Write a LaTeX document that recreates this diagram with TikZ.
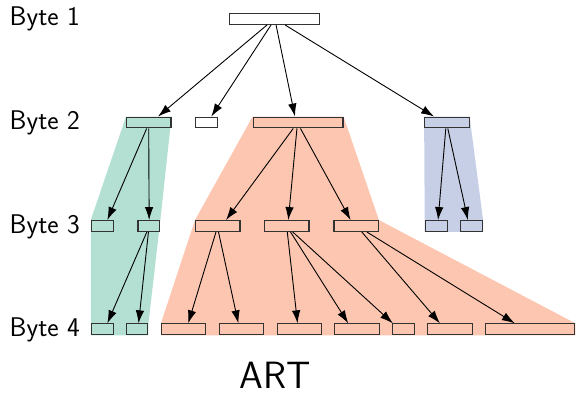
\documentclass[tikz,border=0pt]{standalone}
\usetikzlibrary{arrows.meta}
\definecolor{cg}{HTML}{B3E0D2}
\definecolor{co}{HTML}{FDC6B0}
\definecolor{cb}{HTML}{C6CFE5}
\begin{document}
\begin{tikzpicture}[x=1pt,y=-1pt,
  keybox/.style={draw=black!80, line width=1.1pt, inner sep=0pt, minimum height=10.8pt},
  sbox/.style={keybox, minimum width=21.8pt},
  mbox/.style={keybox, minimum width=44.4pt},
  lbox/.style={keybox, minimum width=89.8pt},
  arr/.style={-{Latex[length=13pt,width=8.5pt]}, line width=0.9pt, black},
  lbl/.style={font=\sffamily\fontsize{27}{32}\selectfont, anchor=base west, inner sep=0pt},
  ttl/.style={font=\sffamily\fontsize{38}{44}\selectfont, anchor=base, inner sep=0pt}]
\useasboundingbox (0,0) rectangle (576,394);

% labels
\node[lbl] (l1) at (9.5,25.7) {Byte 1};
\node[lbl] (l2) at (9.5,129.3) {Byte 2};
\node[lbl] (l3) at (9.5,233) {Byte 3};
\node[lbl] (l4) at (9.5,336.3) {Byte 4};
\node[ttl] (art) at (275.5,388.5) {ART};

% box positions
\path
  (274.5,19) coordinate (a)
  (148.75,122.5) coordinate (g2)
  (206.25,122.5) coordinate (w2)
  (298.1,122.5) coordinate (s2)
  (446.85,122.5) coordinate (b2)
  (102.2,226) coordinate (g3a)
  (148.9,226) coordinate (g3b)
  (217.75,226) coordinate (s3a)
  (286.75,226) coordinate (s3b)
  (356.15,226) coordinate (s3c)
  (436.15,226) coordinate (b3a)
  (471.65,226) coordinate (b3b)
  (102.2,329.3) coordinate (g4a)
  (137,329.3) coordinate (g4b)
  (183.65,329.3) coordinate (s4a)
  (241.5,329.3) coordinate (s4b)
  (299.3,329.3) coordinate (s4c)
  (357,329.3) coordinate (s4d)
  (403.5,329.3) coordinate (s4e)
  (450,329.3) coordinate (s4f)
  (530,329.3) coordinate (s4g);

% invisible sizing nodes for region corners
\path
  (g2) node[mbox, draw=none] (G2) {}
  (g3a) node[sbox, draw=none] (G3a) {}
  (g3b) node[sbox, draw=none] (G3b) {}
  (g4a) node[sbox, draw=none] (G4a) {}
  (g4b) node[sbox, draw=none] (G4b) {}
  (s2) node[lbox, draw=none] (S2) {}
  (s3a) node[mbox, draw=none] (S3a) {}
  (s3c) node[mbox, draw=none] (S3c) {}
  (s4a) node[mbox, draw=none] (S4a) {}
  (s4g) node[lbox, draw=none] (S4g) {}
  (b2) node[mbox, draw=none] (B2) {}
  (b3a) node[sbox, draw=none] (B3a) {}
  (b3b) node[sbox, draw=none] (B3b) {};

% shaded regions
\fill[cg] (G2.north west) -- (G2.north east) -- (G3b.north east) -- (G4b.north east)
  -- (G4b.south east) -- (G4a.south west) -- (G3a.north west) -- cycle;
\fill[co] (S2.north west) -- (S2.north east) -- (S3c.north east) -- (S4g.north east)
  -- (S4g.south east) -- (S4a.south west) -- (S4a.north west) -- (S3a.north west) -- cycle;
\fill[cb] (B2.north west) -- (B2.north east) -- (B3b.north east) -- (B3b.south east)
  -- (B3a.south west) -- (B3a.north west) -- cycle;

% boxes
\path
  (a) node[lbox, fill=white] (A) {}
  (g2) node[mbox, fill=cg] (N-g2) {}
  (w2) node[sbox, fill=white] (N-w2) {}
  (s2) node[lbox, fill=co] (N-s2) {}
  (b2) node[mbox, fill=cb] (N-b2) {}
  (g3a) node[sbox, fill=cg] (N-g3a) {}
  (g3b) node[sbox, fill=cg] (N-g3b) {}
  (s3a) node[mbox, fill=co] (N-s3a) {}
  (s3b) node[mbox, fill=co] (N-s3b) {}
  (s3c) node[mbox, fill=co] (N-s3c) {}
  (b3a) node[sbox, fill=cb] (N-b3a) {}
  (b3b) node[sbox, fill=cb] (N-b3b) {}
  (g4a) node[sbox, fill=cg] (N-g4a) {}
  (g4b) node[sbox, fill=cg] (N-g4b) {}
  (s4a) node[mbox, fill=co] (N-s4a) {}
  (s4b) node[mbox, fill=co] (N-s4b) {}
  (s4c) node[mbox, fill=co] (N-s4c) {}
  (s4d) node[mbox, fill=co] (N-s4d) {}
  (s4e) node[sbox, fill=co] (N-s4e) {}
  (s4f) node[mbox, fill=co] (N-s4f) {}
  (s4g) node[lbox, fill=co] (N-s4g) {};

% arrows
\draw[arr] ([xshift=38pt]A.south west) -- ([xshift=32pt]N-g2.north west);
\draw[arr] ([xshift=42pt]A.south west) -- ([xshift=16.5pt]N-w2.north west);
\draw[arr] ([xshift=47pt]A.south west) -- ([xshift=42.3pt]N-s2.north west);
\draw[arr] ([xshift=56pt]A.south west) -- ([xshift=10pt]N-b2.north west);

\draw[arr] ([xshift=20.7pt]N-g2.south west) -- ([xshift=16.6pt]N-g3a.north west);
\draw[arr] ([xshift=22.7pt]N-g2.south west) -- ([xshift=11.7pt]N-g3b.north west);
\draw[arr] ([xshift=40.6pt]N-s2.south west) -- ([xshift=31pt]N-s3a.north west);
\draw[arr] ([xshift=44.3pt]N-s2.south west) -- ([xshift=24.3pt]N-s3b.north west);
\draw[arr] ([xshift=47.8pt]N-s2.south west) -- ([xshift=17.2pt]N-s3c.north west);
\draw[arr] ([xshift=21.7pt]N-b2.south west) -- ([xshift=13.4pt]N-b3a.north west);
\draw[arr] ([xshift=23.7pt]N-b2.south west) -- ([xshift=7.7pt]N-b3b.north west);

\draw[arr] ([xshift=9.4pt]N-g3b.south west) -- ([xshift=16.6pt]N-g4a.north west);
\draw[arr] ([xshift=11pt]N-g3b.south west) -- ([xshift=13pt]N-g4b.north west);
\draw[arr] ([xshift=21pt]N-s3a.south west) -- ([xshift=27.3pt]N-s4a.north west);
\draw[arr] ([xshift=23.5pt]N-s3a.south west) -- ([xshift=19.6pt]N-s4b.north west);
\draw[arr] ([xshift=23.3pt]N-s3b.south west) -- ([xshift=21pt]N-s4c.north west);
\draw[arr] ([xshift=26.5pt]N-s3b.south west) -- ([xshift=14pt]N-s4d.north west);
\draw[arr] ([xshift=28.7pt]N-s3b.south west) -- ([xshift=0.8pt]N-s4e.north west);
\draw[arr] ([xshift=28.4pt]N-s3c.south west) -- ([xshift=12.7pt]N-s4f.north west);
\draw[arr] ([xshift=33.4pt]N-s3c.south west) -- ([xshift=30.3pt]N-s4g.north west);
\end{tikzpicture}
\end{document}
